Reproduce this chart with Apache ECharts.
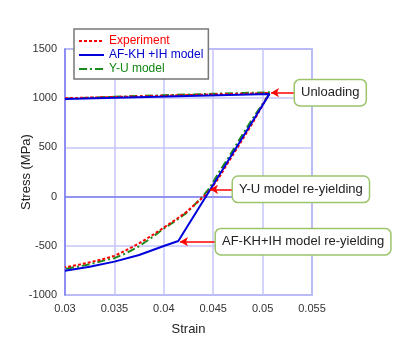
<!DOCTYPE html>
<html>
<head>
<meta charset="utf-8">
<script src="https://cdn.jsdelivr.net/npm/echarts@6/dist/echarts.min.js"></script>
<style>
  html, body { margin: 0; padding: 0; background: #fff; }
  #chart { width: 410px; height: 350px; }
</style>
</head>
<body>
<div id="chart"></div>
<script>
// strain / stress
const expStrain = [0.030, 0.035, 0.040, 0.045, 0.050, 0.0507, 0.0490, 0.0475, 0.0465, 0.0456, 0.0447, 0.0440, 0.0433, 0.0423, 0.0412, 0.0400, 0.0388, 0.0375, 0.0362, 0.0350, 0.0340, 0.0325, 0.0315, 0.0300];
const expStress = [1000, 1012, 1025, 1038, 1050, 1055, 750, 505, 345, 195, 68, -5, -65, -155, -235, -315, -395, -475, -545, -602, -632, -668, -690, -718];

const afStrain = [0.030, 0.0507, 0.04147, 0.0400, 0.0375, 0.0350, 0.0325, 0.0300];
const afStress = [992, 1043, -451, -502, -593, -661, -712, -753];

const yuStrain = [0.030, 0.035, 0.040, 0.045, 0.050, 0.0508, 0.0490, 0.0475, 0.0465, 0.0455, 0.0447, 0.0440, 0.0433, 0.0423, 0.0412, 0.0400, 0.0388, 0.0375, 0.0362, 0.0350, 0.0340, 0.0325, 0.0315, 0.0300];
const yuStress = [995, 1015, 1030, 1045, 1058, 1060, 795, 555, 390, 235, 95, 10, -65, -165, -245, -325, -415, -505, -575, -625, -648, -688, -708, -735];

const seriesNames = ['Experiment', 'AF-KH +IH model', 'Y-U model'];

// annotation arrows: [box side point, target point], and the label text
const notes = [
  { text: 'Unloading', from: [0.05328, 1056], to: [0.05085, 1056] },
  { text: 'Y-U model re-yielding', from: [0.0470, 74], to: [0.04468, 74] },
  { text: 'AF-KH+IH model re-yielding', from: [0.04528, -458], to: [0.04164, -458] }
];

function pairs(xs, ys) {
  return xs.map((x, i) => [x, ys[i]]);
}

var chart = echarts.init(document.getElementById('chart'));

var axisFont = { fontFamily: 'Liberation Sans', fontSize: 11, color: '#333' };

option = {
  animation: false,
  backgroundColor: '#fff',
  grid: {
    left: 65, right: 98, top: 49, bottom: 55,
    outerBoundsMode: 'none',
    show: true, borderColor: '#7f7ff0', borderWidth: 1.5
  },
  legend: {
    orient: 'vertical',
    left: 74, top: 29,
    backgroundColor: '#fff',
    borderColor: '#777', borderWidth: 1.5,
    padding: [6, 5, 4, 4],
    itemWidth: 25, itemHeight: 12, itemGap: 2,
    itemStyle: { opacity: 0 },
    textStyle: { fontFamily: 'Liberation Sans', fontSize: 12 },
    data: [
      { name: seriesNames[0], textStyle: { color: '#ff0000' } },
      { name: seriesNames[1], textStyle: { color: '#0000cc' } },
      { name: seriesNames[2], textStyle: { color: '#118811' } }
    ]
  },
  xAxis: {
    type: 'value',
    min: 0.03, max: 0.055, interval: 0.005,
    name: 'Strain', nameLocation: 'middle', nameGap: 28,
    nameMoveOverlap: false,
    nameTextStyle: { fontFamily: 'Liberation Sans', fontSize: 13, color: '#222' },
    axisLine: { lineStyle: { color: '#7f7ff0', width: 1.5 } },
    axisTick: { show: false },
    axisLabel: axisFont,
    splitLine: { lineStyle: { color: '#c4c4fa', width: 1.5 } }
  },
  yAxis: {
    type: 'value',
    min: -1000, max: 1500, interval: 500,
    name: 'Stress (MPa)', nameLocation: 'middle', nameGap: 32,
    nameMoveOverlap: false,
    nameTextStyle: { fontFamily: 'Liberation Sans', fontSize: 13, color: '#222' },
    axisLine: { show: true, lineStyle: { color: '#7f7ff0', width: 1.5 } },
    axisTick: { show: false },
    axisLabel: Object.assign({ formatter: v => String(v) }, axisFont),
    splitLine: { lineStyle: { color: '#c4c4fa', width: 1.5 } }
  },
  series: [
    {
      name: seriesNames[0], type: 'line', symbol: 'none', z: 3,
      data: pairs(expStrain, expStress),
      lineStyle: { color: '#ff0000', width: 2, type: [3, 2] },
      itemStyle: { color: '#ff0000' }
    },
    {
      name: seriesNames[1], type: 'line', symbol: 'none', z: 4,
      data: pairs(afStrain, afStress),
      lineStyle: { color: '#0000dd', width: 2 },
      itemStyle: { color: '#0000dd' }
    },
    {
      name: seriesNames[2], type: 'line', symbol: 'none', z: 2,
      data: pairs(yuStrain, yuStress),
      lineStyle: { color: '#1a8a1a', width: 2, type: [8, 3, 2, 3] },
      itemStyle: { color: '#1a8a1a' },
      markLine: {
        silent: true,
        symbol: ['none', 'arrow'],
        symbolSize: [7, 8],
        lineStyle: { color: '#ff0000', width: 1.5, type: 'solid' },
        label: {
          show: true,
          position: 'start',
          distance: 0,
          formatter: p => p.data.text,
          fontFamily: 'Liberation Sans',
          fontSize: 13,
          color: '#222',
          backgroundColor: '#fff',
          borderColor: '#9bc46b',
          borderWidth: 1.5,
          borderRadius: 5,
          padding: [6, 6, 6, 6]
        },
        data: notes.map(n => [
          { coord: n.from, text: n.text },
          { coord: n.to }
        ])
      }
    }
  ]
};

chart.setOption(option);
</script>
</body>
</html>
